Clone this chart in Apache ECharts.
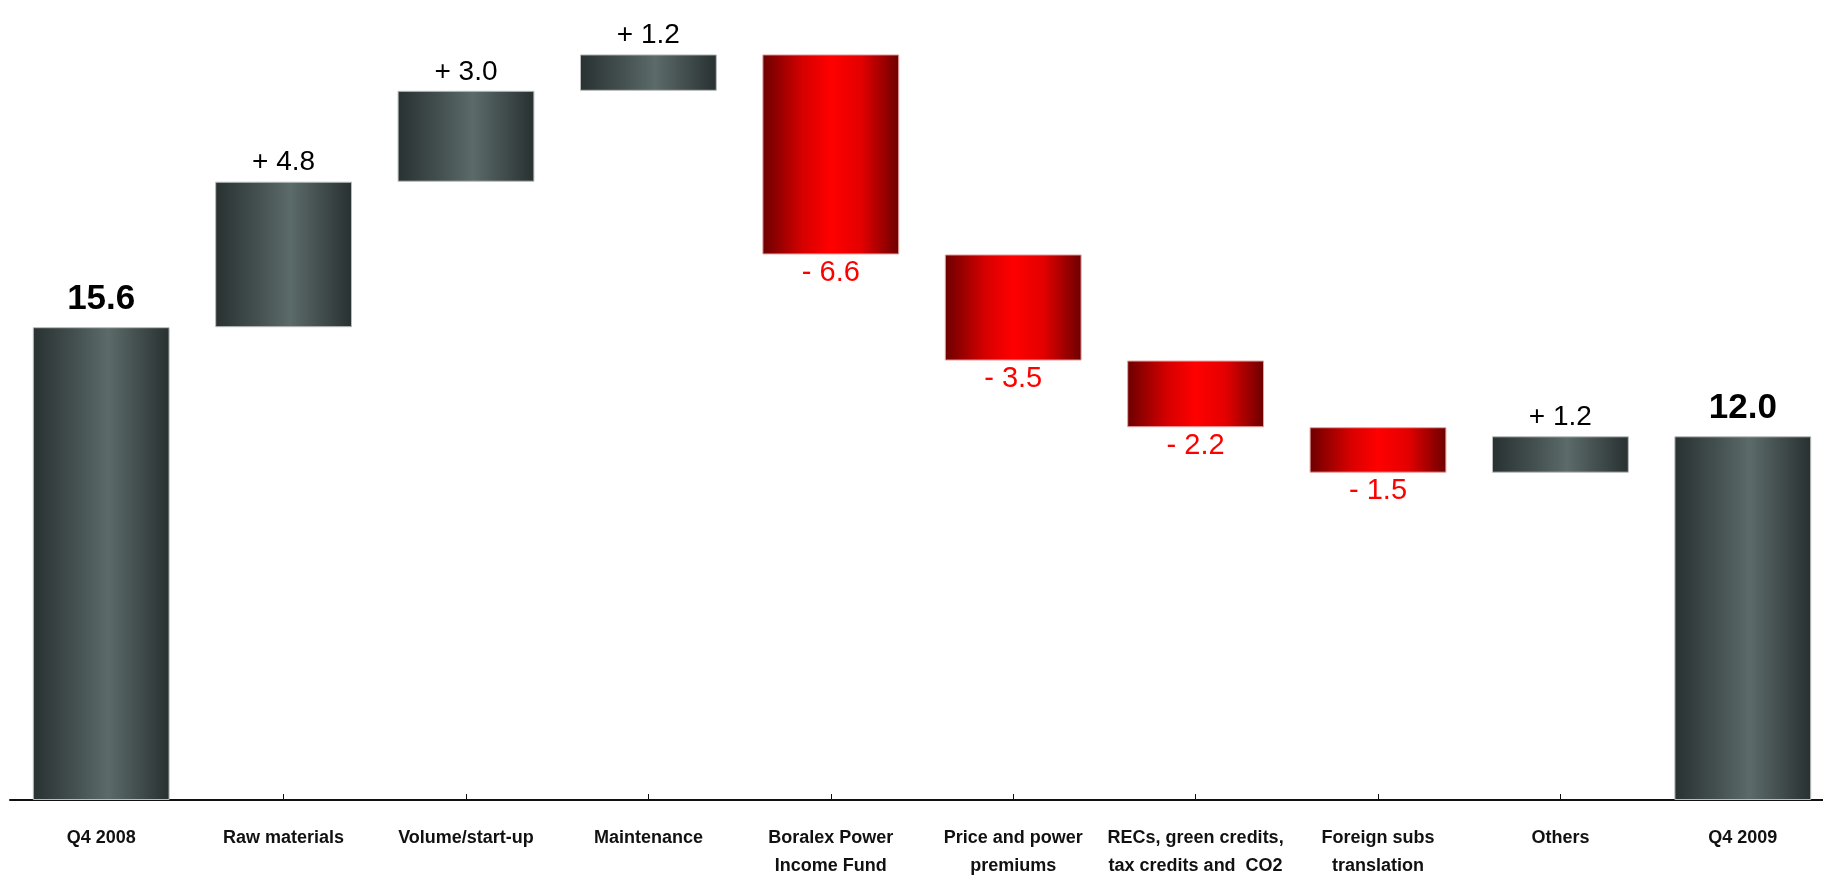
<!DOCTYPE html>
<html>
<head>
<meta charset="utf-8">
<script src="https://cdn.jsdelivr.net/npm/echarts@6/dist/echarts.min.js"></script>
<style>
  html, body { margin: 0; padding: 0; background: #fff; }
  #chart { width: 1823px; height: 878px; }
</style>
</head>
<body>
<div id="chart"></div>
<script>
const categories = [
  'Q4 2008',
  'Raw materials',
  'Volume/start-up',
  'Maintenance',
  'Boralex Power\nIncome Fund',
  'Price and power\npremiums',
  'RECs, green credits,\ntax credits and  CO2',
  'Foreign subs\ntranslation',
  'Others',
  'Q4 2009'
];
const values = [15.6, 4.8, 3.0, 1.2, -6.6, -3.5, -2.2, -1.5, 1.2, 12.0];
const kinds = ['total', 'delta', 'delta', 'delta', 'delta', 'delta', 'delta', 'delta', 'delta', 'total'];

const sans = '"Liberation Sans", Arial, sans-serif';

const grayFill = {
  type: 'linear', x: 0, y: 0, x2: 1, y2: 0,
  colorStops: [
    { offset: 0, color: '#293131' },
    { offset: 0.3, color: '#434f4f' },
    { offset: 0.55, color: '#5b6b69' },
    { offset: 0.8, color: '#3f4a4a' },
    { offset: 1, color: '#283030' }
  ]
};
const redFill = {
  type: 'linear', x: 0, y: 0, x2: 1, y2: 0,
  colorStops: [
    { offset: 0, color: '#6c0000' },
    { offset: 0.3, color: '#d80000' },
    { offset: 0.5, color: '#ff0000' },
    { offset: 0.72, color: '#e40000' },
    { offset: 1, color: '#6c0000' }
  ]
};

// invisible base + visible step for the waterfall
const base = [];
const steps = [];
let running = 0;
values.forEach((v, i) => {
  if (kinds[i] === 'total') {
    base.push(0);
    running = v;
    steps.push({
      value: v,
      itemStyle: { color: grayFill, borderColor: '#b8bcbc', borderWidth: 1 },
      label: {
        show: true, position: 'top', distance: 10,
        formatter: v.toFixed(1),
        fontFamily: sans, fontWeight: 'bold', fontSize: 35, color: '#000'
      }
    });
  } else if (v >= 0) {
    base.push(running);
    running += v;
    steps.push({
      value: v,
      itemStyle: { color: grayFill, borderColor: '#b8bcbc', borderWidth: 1 },
      label: {
        show: true, position: 'top', distance: 5,
        formatter: '+ ' + v.toFixed(1),
        fontFamily: sans, fontSize: 28, color: '#000'
      }
    });
  } else {
    running += v;
    base.push(running);
    steps.push({
      value: -v,
      itemStyle: { color: redFill, borderColor: '#e8a0a0', borderWidth: 1 },
      label: {
        show: true, position: 'bottom', distance: 4,
        formatter: '- ' + (-v).toFixed(1),
        fontFamily: sans, fontSize: 29, color: '#ff0000'
      }
    });
  }
});

const chart = echarts.init(document.getElementById('chart'));

const option = {
  animation: false,
  backgroundColor: '#ffffff',
  // plot area runs a little past the right edge, like the original slide
  grid: { left: 10, right: -11, top: 12, bottom: 78, outerBoundsMode: 'none' },
  xAxis: {
    type: 'category',
    data: categories,
    axisLine: { lineStyle: { color: '#111', width: 2 } },
    axisTick: { show: true, inside: true, length: 6, alignWithLabel: true, lineStyle: { color: '#111', width: 1 } },
    axisLabel: {
      interval: 0,
      margin: 24,
      fontFamily: sans,
      fontWeight: 'bold',
      fontSize: 18,
      lineHeight: 28,
      color: '#111'
    }
  },
  yAxis: {
    type: 'value',
    min: 0,
    max: 26,
    show: false,
    splitLine: { show: false }
  },
  series: [
    {
      name: 'base',
      type: 'bar',
      stack: 'wf',
      barWidth: '75%',
      silent: true,
      itemStyle: { color: 'transparent' },
      data: base
    },
    {
      name: 'step',
      type: 'bar',
      stack: 'wf',
      barWidth: '75%',
      data: steps
    }
  ]
};

chart.setOption(option);
window.addEventListener('resize', () => chart.resize());
</script>
</body>
</html>
